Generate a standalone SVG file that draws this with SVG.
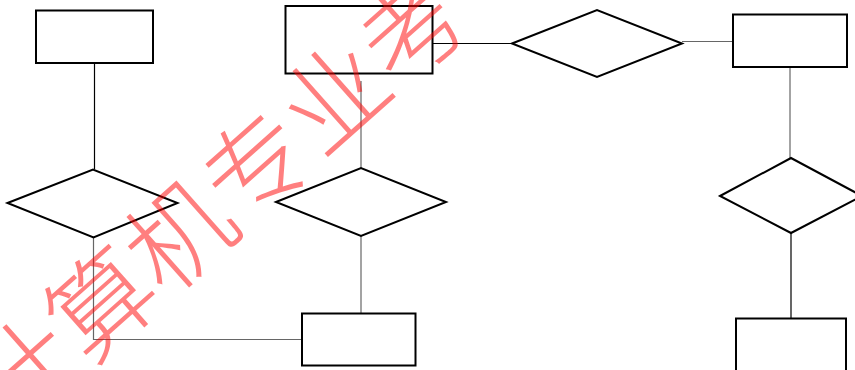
<svg xmlns="http://www.w3.org/2000/svg" width="855" height="370" viewBox="0 0 855 370">
<style>
.shape{fill:#fff;stroke:#000;stroke-width:2}
.ln{fill:none;stroke:#000;stroke-width:1.2}
.gr{stroke:#666}
.wm{font-family:"Noto Sans CJK SC","Noto Sans CJK JP",sans-serif;font-weight:200;font-size:104px;fill:#ff0000;fill-opacity:0.5}
</style>
<rect width="855" height="370" fill="#fff"/>
<g id="connectors">
<line class="ln" x1="94.5" y1="63" x2="94.5" y2="169"/>
<line class="ln gr" x1="361" y1="81" x2="361" y2="168"/>
<line class="ln gr" x1="361" y1="236" x2="361" y2="313"/>
<polyline class="ln gr" points="93.5,237 93.5,339.5 302,339.5"/>
<line class="ln" x1="432" y1="43.5" x2="512" y2="43.5"/>
<line class="ln gr" x1="682" y1="41.5" x2="733" y2="41.5"/>
<line class="ln gr" x1="790" y1="67" x2="790" y2="158"/>
<line class="ln" x1="791" y1="233" x2="791" y2="318"/>
</g>
<g id="rectA"><rect class="shape" x="36" y="10.5" width="117" height="52.5"/></g>
<g id="rectB"><rect class="shape" x="285.5" y="6" width="147" height="67.5"/></g>
<g id="rectC"><rect class="shape" x="302" y="313.5" width="113.5" height="52"/></g>
<g id="rectD"><rect class="shape" x="733" y="14.5" width="114" height="52.5"/></g>
<g id="rectE"><rect class="shape" x="736" y="318.5" width="110" height="60"/></g>
<g id="diamond1"><polygon class="shape" points="7.5,203 93,169.5 177.5,203 93.5,237.5"/></g>
<g id="diamond2"><polygon class="shape" points="276,202 361,168 446,202 361,236"/></g>
<g id="diamond3"><polygon class="shape" points="512,43.5 597,10 682,43.5 597,77"/></g>
<g id="diamond4"><polygon class="shape" points="720,196 791,158 862,196 791,233"/></g>
<g id="watermark">
<text class="wm" x="213.5" y="195" text-anchor="middle" dominant-baseline="central" transform="rotate(-41.6 213.5 195)">计算机专业考</text>
</g>
</svg>
